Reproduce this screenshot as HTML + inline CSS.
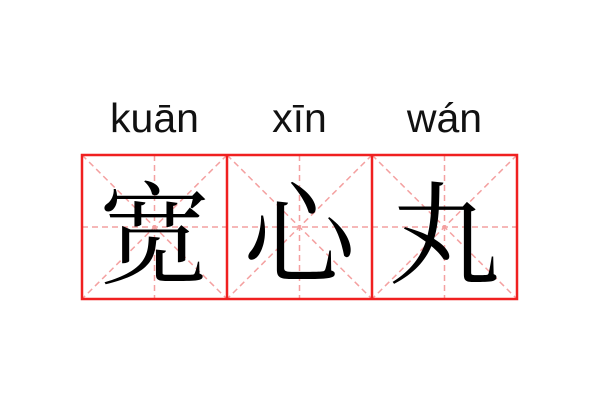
<!DOCTYPE html>
<html><head><meta charset="utf-8"><style>
html,body{margin:0;padding:0;background:#fff;width:600px;height:400px;overflow:hidden}
.py{position:absolute;top:95px;font-family:"Liberation Sans","DejaVu Sans",sans-serif;font-size:41px;color:#111;width:145px;text-align:center}
.ch{position:absolute;top:160px;width:145px;text-align:center;font-family:"Noto Serif CJK SC","Noto Sans CJK SC",serif;font-size:112px;line-height:136px;color:#000}
</style></head><body>
<div class="py" style="left:82px">kuān</div>
<div class="py" style="left:227px">xīn</div>
<div class="py" style="left:372px">wán</div>
<svg width="600" height="400" style="position:absolute;left:0;top:0">
<g stroke="#f4a0a0" stroke-width="1.5" stroke-dasharray="6,4" fill="none">
<line x1="82" y1="227" x2="517" y2="227"/>
<line x1="154.5" y1="155" x2="154.5" y2="299"/>
<line x1="299.5" y1="155" x2="299.5" y2="299"/>
<line x1="444.5" y1="155" x2="444.5" y2="299"/>
<line x1="82" y1="155" x2="227" y2="299"/><line x1="227" y1="155" x2="82" y2="299"/>
<line x1="227" y1="155" x2="372" y2="299"/><line x1="372" y1="155" x2="227" y2="299"/>
<line x1="372" y1="155" x2="517" y2="299"/><line x1="517" y1="155" x2="372" y2="299"/>
</g>
<g stroke="#f02020" stroke-width="2.5" fill="none">
<rect x="82" y="155" width="435" height="144"/>
<line x1="227" y1="155" x2="227" y2="299"/>
<line x1="372" y1="155" x2="372" y2="299"/>
</g>
</svg>
<div class="ch" style="left:82px">宽</div>
<div class="ch" style="left:227px">心</div>
<div class="ch" style="left:372px">丸</div>
</body></html>
